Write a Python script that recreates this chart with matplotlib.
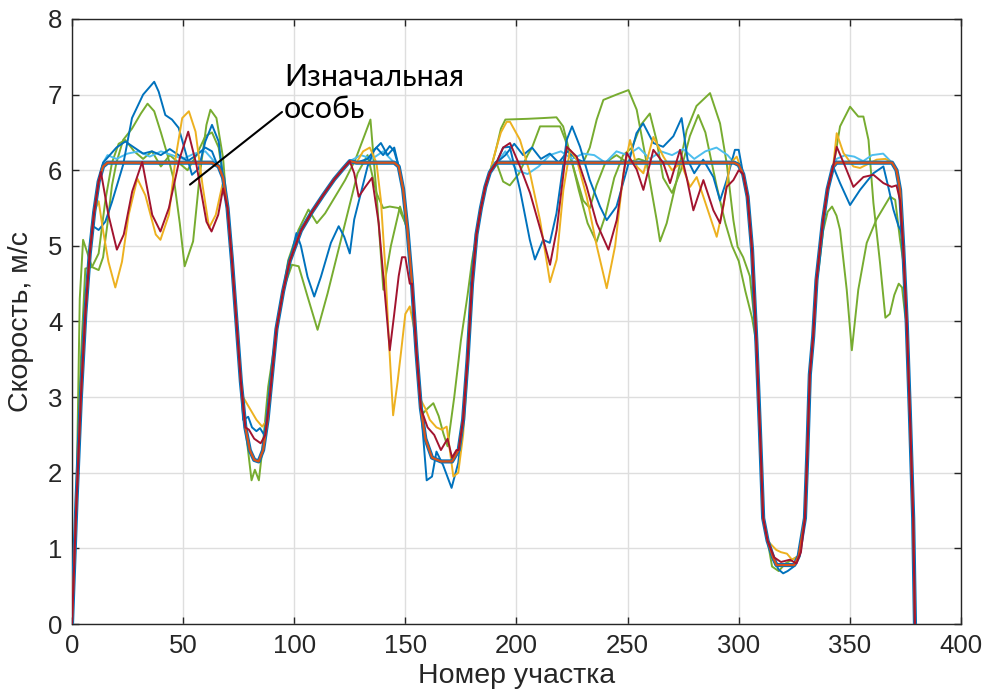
import matplotlib
matplotlib.use("Agg")
import matplotlib.pyplot as plt

# Initial individual: speed profile along the track segments
base_x = [0, 2, 4, 6, 8, 10, 12, 14, 16, 63, 66, 68, 70, 72, 74, 76, 78, 80, 82, 84, 86, 88,
          90, 92, 95, 98, 103, 108, 113, 118, 122, 125, 128, 145, 147, 149, 151, 153, 155, 157,
          159, 162, 166, 171, 174, 176, 178, 180, 182, 184, 186, 188, 191, 298, 300, 302, 304,
          306, 308, 309.5, 311, 313, 315.5, 317, 325, 327, 329.8, 330.8, 332, 333.5, 335, 338,
          340, 342.5, 344, 369, 371, 372.6, 374, 375.6, 377, 378.5, 379.3]
base_y = [0, 1.6, 3.0, 4.1, 4.9, 5.45, 5.85, 6.05, 6.1, 6.1, 6.05, 5.9, 5.5, 4.8, 4.0, 3.2, 2.6,
          2.3, 2.17, 2.15, 2.3, 2.7, 3.3, 3.9, 4.4, 4.8, 5.2, 5.45, 5.67, 5.88, 6.02, 6.12, 6.1,
          6.1, 6.05, 5.75, 5.2, 4.5, 3.6, 2.85, 2.45, 2.2, 2.15, 2.15, 2.3, 2.7, 3.5, 4.5, 5.15,
          5.5, 5.78, 5.97, 6.1, 6.1, 6.07, 5.95, 5.65, 4.95, 3.7, 2.6, 1.4, 1.1, 0.88, 0.78,
          0.78, 0.9, 1.4, 2.2, 3.3, 3.8, 4.55, 5.35, 5.75, 6.05, 6.1, 6.1, 6.0, 5.74, 5.0, 3.98,
          2.8, 1.4, 0]

# Mutated individuals: stretches (x, y) where they differ from the initial profile
blue_a = [
    ([9, 12, 15, 18, 23, 27, 32, 37, 39, 42, 45, 48, 51, 54, 57, 60, 63, 66, 68, 70],
     [5.27, 5.21, 5.32, 5.58, 6.07, 6.69, 7.0, 7.17, 7.04, 6.73, 6.67, 6.56, 6.25, 5.94, 6.02,
      6.38, 6.6, 6.38, 5.9, 5.5]),
    ([77, 79.3, 81, 83, 84.6, 86.5, 88],
     [2.7, 2.74, 2.6, 2.55, 2.59, 2.5, 2.7]),
    ([101, 103, 106, 109, 112, 116.5, 120, 122.5, 125, 127, 130, 133, 136, 139, 142, 145, 147],
     [5.17, 5.0, 4.59, 4.33, 4.59, 5.04, 5.26, 5.12, 4.9, 5.35, 5.7, 6.05, 6.27, 6.36, 6.2,
      6.3, 6.05]),
    ([157, 159.6, 162, 164, 167, 170.8, 173.8, 176],
     [2.85, 1.9, 1.95, 2.28, 2.1, 1.8, 2.13, 2.7]),
    ([191, 194, 197, 201.6, 206, 208.3, 212, 215, 218, 222.6, 225, 228.6, 233, 237.6, 240.6,
      245, 249.6, 254, 257, 261.6, 266, 270.6, 274.3, 277, 280, 284, 288.6, 291.6, 294.6,
      298.3, 300, 302],
     [6.1, 6.3, 6.31, 5.74, 5.08, 4.82, 5.08, 5.04, 5.43, 6.40, 6.58, 6.31, 5.87, 5.52, 5.34,
      5.52, 6.0, 6.49, 6.62, 6.36, 6.31, 6.45, 6.69, 6.14, 5.96, 6.14, 5.91, 5.6, 5.87, 6.27,
      6.27, 5.95]),
    ([313, 315.5, 318, 320, 322, 324.8, 327],
     [1.1, 0.85, 0.72, 0.67, 0.7, 0.76, 0.9]),
    ([342.5, 345.6, 350.1, 354.6, 360.6, 365.1, 367.3, 369.6, 371.9, 373],
     [6.05, 5.83, 5.54, 5.74, 5.96, 6.05, 5.78, 5.48, 5.26, 5.2]),
]

blue_b = [
    ([14, 17, 20, 24, 28, 32, 36, 40, 44, 48, 52, 56, 60, 63, 65],
     [6.1, 6.2, 6.3, 6.38, 6.3, 6.22, 6.25, 6.2, 6.28, 6.2, 6.12, 6.2, 6.3, 6.25, 6.1]),
    ([128, 133, 137, 140, 143, 145, 147],
     [6.1, 6.15, 6.3, 6.2, 6.32, 6.25, 6.05]),
    ([191, 195, 199, 203, 207, 211, 215, 219, 223, 227, 231],
     [6.1, 6.2, 6.35, 6.2, 6.3, 6.15, 6.22, 6.1, 6.25, 6.15, 6.1]),
]

light_blue = [
    ([14, 16, 20, 25, 30, 35, 40, 45, 50, 55, 60, 63],
     [6.1, 6.2, 6.15, 6.22, 6.25, 6.18, 6.25, 6.2, 6.15, 6.22, 6.25, 6.15]),
    ([125, 130, 135, 140, 145],
     [6.12, 6.2, 6.15, 6.25, 6.1]),
    ([191, 195, 200, 205, 210, 215, 220, 225, 230, 235, 240, 245, 250, 255, 260, 265, 270,
      275, 280, 285, 290, 295, 298],
     [6.1, 6.25, 6.0, 5.95, 6.05, 6.2, 6.25, 6.15, 6.22, 6.2, 6.1, 6.25, 6.2, 6.3, 6.15, 6.25,
      6.2, 6.28, 6.15, 6.25, 6.3, 6.2, 6.1]),
    ([344, 348, 352, 356, 360, 365, 369],
     [6.15, 6.2, 6.18, 6.12, 6.2, 6.22, 6.1]),
]

yellow = [
    ([12, 14, 16.4, 19.5, 22.5, 25.5, 29.4, 33, 37.7, 39.8, 43.6, 46.6, 49.6, 52.6, 55.6,
      58.7, 61.7, 64.7, 67.7, 70, 72],
     [5.59, 5.2, 4.79, 4.45, 4.79, 5.41, 5.89, 5.67, 5.15, 5.08, 5.41, 6.16, 6.69, 6.78,
      6.51, 5.81, 5.24, 5.41, 5.81, 5.5, 4.9]),
    ([77, 79, 81, 83, 85.6, 87.8, 89],
     [3.0, 2.9, 2.8, 2.7, 2.61, 2.7, 3.0]),
    ([128, 131, 134, 137, 139, 141, 142.5, 144.5, 146.5, 148, 150, 152, 154],
     [6.1, 6.25, 6.3, 6.1, 5.6, 4.7, 3.8, 2.76, 3.2, 3.58, 4.1, 4.2, 3.9]),
    ([157, 159, 161, 164, 166.4, 168.6, 170, 171.6, 173.8, 176, 178],
     [2.96, 2.85, 2.7, 2.6, 2.57, 2.61, 2.3, 1.95, 2.0, 2.5, 3.4]),
    ([188, 191, 193, 195.6, 197.1, 201.6, 206.1, 210.6, 215.1, 218.1, 221.1, 224.1, 227.1,
      231.6, 236.1, 240.6, 244.4, 248.1, 251.1, 254.1, 257.1, 261.6, 266.1, 270, 274, 278.1,
      281.1, 284.1, 288.6, 290.1, 293.1, 296.1, 299.1, 302],
     [5.97, 6.3, 6.5, 6.64, 6.64, 6.4, 5.96, 5.34, 4.52, 4.82, 5.74, 6.27, 6.14, 5.65, 5.0,
      4.44, 5.0, 5.96, 6.4, 6.05, 5.96, 6.44, 6.18, 6.0, 6.1, 5.78, 5.91, 5.65, 5.25, 5.12,
      5.52, 6.09, 6.18, 5.95]),
    ([313, 316.9, 319, 321.7, 324, 327],
     [1.1, 0.98, 0.95, 0.93, 0.85, 0.9]),
    ([342.5, 344.1, 347.1, 351.6, 354.6, 358, 362.1, 366, 369],
     [6.05, 6.49, 6.23, 6.05, 6.03, 6.08, 6.14, 6.15, 6.1]),
]

dark_red = [
    ([12, 13, 16.4, 20.2, 23.3, 27.1, 31.6, 36.1, 39.8, 43.6, 48.5, 52.3, 56, 60.5, 62.8,
      65.8, 68, 70],
     [5.85, 5.98, 5.41, 4.95, 5.15, 5.72, 6.11, 5.41, 5.19, 5.5, 6.16, 6.51, 6.07, 5.32,
      5.19, 5.41, 5.76, 5.5]),
    ([78, 79.6, 82, 84.9, 87, 89],
     [2.6, 2.57, 2.45, 2.39, 2.5, 3.0]),
    ([125, 127, 129, 132, 135, 138, 141, 143, 145, 147, 148.5, 150, 152],
     [6.12, 5.96, 5.65, 5.78, 5.9, 5.3, 4.3, 3.62, 4.1, 4.6, 4.85, 4.85, 4.5]),
    ([157, 160, 163, 166, 169, 171, 173],
     [2.85, 2.6, 2.5, 2.3, 2.45, 2.2, 2.3]),
    ([191, 194, 197.1, 201.6, 206.1, 212.1, 215.1, 218.1, 222.6, 227.1, 231.6, 236.1, 241.4,
      245.1, 249.6, 254.1, 257.1, 261.6, 266, 269.1, 273.6, 276.6, 279.6, 284.1, 288.6,
      291.6, 294.6, 297.6, 300, 302],
     [6.1, 6.3, 6.36, 6.05, 5.70, 5.08, 4.75, 5.21, 6.31, 6.18, 5.78, 5.3, 4.95, 5.34, 6.23,
      6.01, 5.74, 6.27, 6.1, 5.83, 6.27, 5.9, 5.47, 5.87, 5.47, 5.3, 5.78, 5.87, 6.0, 5.95]),
    ([313, 316, 319, 323, 326, 328],
     [1.1, 0.88, 0.82, 0.85, 0.8, 0.95]),
    ([342.5, 344.1, 347.9, 351.6, 356.1, 360.6, 365.1, 368.8, 371, 372.6],
     [6.05, 6.31, 6.05, 5.78, 5.91, 5.94, 5.83, 5.78, 5.8, 5.6]),
]

green_a = [
    ([2, 3.5, 5, 7, 9, 12, 14, 16, 18, 20, 23, 27, 31, 34, 37, 40, 43, 46, 48.5, 50.7, 54.5,
      57.5, 60.5, 62.3, 65, 68, 70, 72],
     [1.6, 4.3, 5.08, 4.9, 4.72, 4.68, 4.85, 5.3, 5.8, 6.1, 6.4, 6.55, 6.75, 6.88, 6.78, 6.5,
      6.2, 5.85, 5.3, 4.73, 5.06, 5.94, 6.6, 6.8, 6.69, 6.16, 5.4, 4.8]),
    ([230, 233, 236.1, 239.1, 245, 250.4, 254.1, 258.6, 263.1, 264.6, 267.6, 272.1, 276.6,
      281, 287.1, 291.6, 294.6, 297.6, 299.5, 302, 305, 307.5],
     [6.1, 6.3, 6.67, 6.93, 7.0, 7.06, 6.8, 6.09, 5.34, 5.06, 5.3, 5.87, 6.53, 6.85, 7.02,
      6.62, 6.09, 5.34, 4.99, 4.85, 4.6, 3.9]),
    ([336, 338, 340, 342, 344, 345.6, 348.6, 350.9, 353.8, 357.6, 362, 368.1, 370.4, 372.6,
      374],
     [4.7, 5.2, 5.45, 5.52, 5.4, 5.21, 4.42, 3.62, 4.42, 5.04, 5.35, 5.65, 5.61, 5.08, 4.8]),
]

green_b = [
    ([4, 6, 9, 12, 15, 18, 21, 24, 28, 32, 36, 40, 44, 48, 52, 56, 60, 63, 66, 68],
     [3.5, 4.7, 4.72, 4.9, 5.6, 6.1, 6.35, 6.4, 6.25, 6.15, 6.25, 6.05, 6.2, 6.1, 6.0, 6.2,
      6.45, 6.5, 6.3, 5.9]),
    ([78, 80.8, 82.3, 84.1, 86, 88.3, 92.8, 97.3, 101.9, 106.4, 110.2, 113.9, 118.4, 122.9,
      127.5, 132, 134.3, 137, 140.1, 143.5, 147.6, 150],
     [2.6, 1.9, 2.04, 1.9, 2.4, 3.14, 4.02, 4.81, 5.21, 5.48, 5.3, 5.43, 5.65, 5.87, 6.14,
      6.49, 6.67, 5.7, 4.42, 5.0, 5.52, 5.3]),
    ([188, 191, 193, 195, 205, 212, 218, 221, 224, 228, 232, 236, 240, 244, 248, 252, 256,
      260, 263, 266, 270, 274, 278, 281.8, 285, 290, 294, 297, 300, 303, 306, 308],
     [5.97, 6.3, 6.55, 6.67, 6.68, 6.69, 6.70, 6.58, 6.23, 5.74, 5.3, 5.05, 5.4, 5.9, 6.2,
      6.3, 6.6, 6.75, 6.4, 5.9, 5.7, 6.0, 6.45, 6.73, 6.5, 5.8, 5.3, 5.0, 4.8, 4.4, 4.05,
      3.7]),
    ([340, 342.6, 345.6, 350.1, 353.8, 356.1, 358.4, 360.6, 363.6, 366, 368, 370, 372, 373.5,
      374.8],
     [5.75, 6.05, 6.58, 6.84, 6.71, 6.71, 6.4, 5.57, 4.77, 4.05, 4.1, 4.35, 4.5, 4.45,
      4.1]),
]

green_c = [
    ([96, 99, 102, 106, 110.5, 115, 119.5, 124, 128.5, 133, 137, 140, 143, 147, 150],
     [4.5, 4.75, 4.73, 4.33, 3.89, 4.37, 4.9, 5.43, 5.96, 6.2, 5.7, 5.5, 5.52, 5.5, 5.3]),
    ([157, 158.1, 160, 162.6, 165, 167.1, 169, 172, 175, 178, 180],
     [2.85, 2.79, 2.85, 2.92, 2.75, 2.52, 2.35, 3.0, 3.75, 4.35, 4.8]),
    ([191, 194, 197, 201, 205, 207, 210.6, 214, 219.6, 222, 226, 230, 233, 236, 240, 245,
      250, 255, 260],
     [6.1, 5.85, 5.8, 5.95, 6.2, 6.3, 6.58, 6.58, 6.58, 6.4, 6.0, 5.6, 5.5, 5.8, 6.1, 6.2,
      6.1, 6.15, 6.1]),
    ([313, 315, 318, 321, 324, 327],
     [1.1, 0.76, 0.7, 0.8, 0.85, 0.9]),
]

x_ticks = [0, 50, 100, 150, 200, 250, 300, 350, 400]
y_ticks = [0, 1, 2, 3, 4, 5, 6, 7, 8]

C_BLUE = "#0072BD"
C_LBLUE = "#4DBEEE"
C_YELLOW = "#EDB120"
C_GREEN = "#77AC30"
C_DRED = "#A2142F"
C_ORED = "#D95319"


def assemble(stretches):
    """Initial profile with the listed stretches substituted."""
    spans = [(min(sx), max(sx)) for sx, _ in stretches]
    pts = [(x, y) for x, y in zip(base_x, base_y)
           if not any(lo <= x <= hi for lo, hi in spans)]
    for sx, sy in stretches:
        pts.extend(zip(sx, sy))
    pts.sort(key=lambda p: p[0])
    return [p[0] for p in pts], [p[1] for p in pts]


plt.rcParams["font.family"] = ["Liberation Sans", "DejaVu Sans"]

fig = plt.figure(figsize=(9.86, 6.98), dpi=100)
ax = fig.add_axes([0.073, 0.106, 0.9016, 0.8668])

lw = 1.4
for stretches, color in [(green_c, C_GREEN), (green_b, C_GREEN), (green_a, C_GREEN),
                         (light_blue, C_LBLUE), (blue_b, C_BLUE), (blue_a, C_BLUE),
                         (yellow, C_YELLOW)]:
    xs, ys = assemble(stretches)
    ax.plot(xs, ys, color=color, lw=lw, solid_joinstyle="round", zorder=2)

ax.plot(base_x, base_y, color=C_BLUE, lw=3.0, solid_joinstyle="round", zorder=3)
ax.plot(base_x, base_y, color=C_ORED, lw=1.6, solid_joinstyle="round", zorder=3.5)
xs, ys = assemble(dark_red)
ax.plot(xs, ys, color=C_DRED, lw=lw, solid_joinstyle="round", zorder=4)

ax.set_xlim(0, 400)
ax.set_ylim(0, 8)
ax.set_xticks(x_ticks)
ax.set_yticks(y_ticks)
ax.grid(True, color="#DEDEDE", lw=1.0)
ax.set_axisbelow(True)
for sp in ax.spines.values():
    sp.set_color("#262626")
    sp.set_linewidth(1.0)
ax.tick_params(direction="in", length=5, width=1.0, top=True, right=True,
               labelsize=18.5, colors="#262626", pad=7)
ax.set_xlabel("Номер участка", fontsize=20.5, color="#262626", labelpad=4)
ax.set_ylabel("Скорость, м/с", fontsize=20.5, color="#262626", labelpad=10)

# callout for the initial individual
ax.text(95.5, 7.42, "Изначальная\nособь", fontsize=22, family=["Lato", "DejaVu Sans"],
        color="black", ha="left", va="top", linespacing=1.2, zorder=6)
ax.annotate("", xy=(53.1, 5.81), xytext=(94.5, 6.77),
            arrowprops=dict(arrowstyle="-", color="black", lw=1.5, shrinkA=0, shrinkB=0),
            zorder=6)

fig.savefig("out.png", dpi=100)
